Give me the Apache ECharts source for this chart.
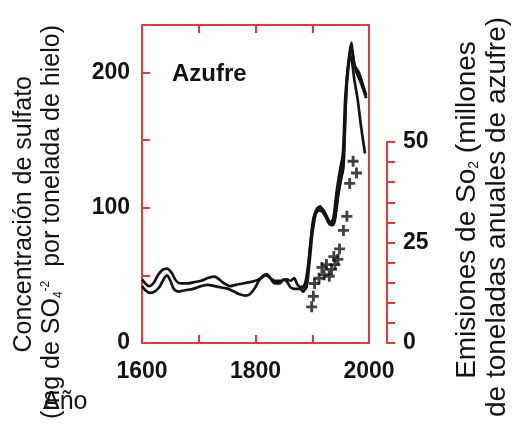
<!DOCTYPE html>
<html><head><meta charset="utf-8">
<script src="https://cdn.jsdelivr.net/npm/echarts@6/dist/echarts.min.js"></script>
<style>html,body{margin:0;padding:0;background:#fff}#c{width:515px;height:444px}</style>
</head><body><div id="c"></div>
<script>
// ---- data ----
const xTickLabels = ['1600', '1800', '2000'];
const leftTickLabels = ['0', '100', '200'];
const rightTickLabels = ['0', '25', '50'];

const sulfateA = [[1600,47],[1606,44],[1612,42],[1620,44],[1628,50],[1636,54],[1644,55],[1652,52],[1660,46],[1668,44],[1680,44],[1692,45],[1704,46],[1716,48],[1728,49],[1736,47],[1745,44],[1755,42],[1765,43],[1778,44],[1790,45],[1800,46],[1810,48],[1818,50],[1826,48],[1834,46],[1845,46],[1855,47],[1862,46],[1868,48],[1874,43],[1882,41],[1888,45],[1894,62],[1900,85],[1906,97],[1912,100],[1918,99],[1924,95],[1930,90],[1936,88],[1940,93],[1945,108],[1950,120],[1955,130],[1958,165],[1961,195],[1965,212],[1969,222],[1972,210],[1978,200],[1986,192],[1995,181]];
const sulfateB = [[1600,42],[1606,39],[1614,37],[1622,38],[1630,41],[1638,47],[1644,50],[1650,46],[1656,40],[1664,38],[1676,39],[1690,40],[1704,42],[1716,43],[1728,42],[1740,41],[1752,40],[1762,38],[1772,36],[1782,35],[1790,36],[1798,40],[1806,46],[1814,50],[1820,51],[1826,48],[1834,44],[1842,44],[1850,47],[1856,45],[1862,41],[1870,40],[1878,40],[1884,38],[1890,44],[1896,70],[1902,92],[1908,99],[1914,101],[1920,96],[1926,92],[1932,89],[1937,92],[1943,112],[1949,128],[1954,140],[1958,180],[1962,200],[1967,212],[1970,208],[1974,195],[1980,180],[1986,160],[1993,140]];
const sulfateC = [[1880,42],[1888,40],[1894,55],[1900,80],[1906,95],[1912,98],[1918,97],[1924,93],[1930,88],[1936,87],[1940,91],[1946,110],[1952,125],[1956,145],[1960,185],[1964,205],[1968,218],[1971,215],[1975,205],[1982,200],[1990,190],[1995,183]];
const emissions = [[1899,9.0],[1902,11.6],[1904,14.8],[1912,16.1],[1917,18.8],[1921,17.0],[1925,19.5],[1930,16.6],[1934,18.3],[1938,21.5],[1940,19.5],[1945,20.8],[1948,23.4],[1955,28.0],[1961,31.5],[1966,39.7],[1972,45.2],[1978,42.3]];

// ---- chart ----
const RED = '#e23a3a';
const INK = '#141414';
const FONT = 'Liberation Sans, Arial, sans-serif';
const chart = echarts.init(document.getElementById('c'), null, {renderer: 'canvas'});
const plus = 'path://M3.7,0H6.3V3.7H10V6.3H6.3V10H3.7V6.3H0V3.7H3.7Z';
const lineS = (d) => ({type: 'line', xAxisIndex: 0, yAxisIndex: 0, data: d, showSymbol: false, smooth: 0.3,
  lineStyle: {color: INK, width: 2.7}, z: 3});
const tickFont = {color: INK, fontSize: 23, fontWeight: 'bold', fontFamily: FONT};

chart.setOption({
  animation: false,
  backgroundColor: '#fff',
  grid: [
    {left: 142, top: 25, width: 227, height: 318},
    {left: 142, top: 142, width: 227, height: 201}
  ],
  xAxis: [
    {gridIndex: 0, type: 'value', min: 1600, max: 2000, interval: 100, position: 'bottom',
     axisLine: {onZero: false, lineStyle: {color: RED, width: 2}}, splitLine: {show: false},
     axisTick: {inside: true, length: 8, lineStyle: {color: RED, width: 2}},
     axisLabel: Object.assign({margin: 17,
       formatter: v => xTickLabels.includes(String(v)) ? String(v) : ''}, tickFont)},
    {gridIndex: 0, type: 'value', min: 1600, max: 2000, interval: 100, position: 'top',
     axisLine: {onZero: false, lineStyle: {color: RED, width: 2}}, splitLine: {show: false},
     axisTick: {inside: true, length: 8, lineStyle: {color: RED, width: 2}},
     axisLabel: {show: false}},
    {gridIndex: 1, type: 'value', min: 1600, max: 2000, show: false}
  ],
  yAxis: [
    {gridIndex: 0, type: 'value', min: 0, max: 235, interval: 50, position: 'left',
     axisLine: {show: true, onZero: false, lineStyle: {color: RED, width: 2}}, splitLine: {show: false},
     axisTick: {show: true, inside: true, length: 8, lineStyle: {color: RED, width: 2}},
     axisLabel: Object.assign({margin: 12, showMaxLabel: false,
       formatter: v => leftTickLabels.includes(String(v)) ? String(v) : ''}, tickFont)},
    {gridIndex: 0, type: 'value', min: 0, max: 235, position: 'right',
     axisLine: {show: true, onZero: false, lineStyle: {color: RED, width: 2}}, splitLine: {show: false},
     axisTick: {show: false}, axisLabel: {show: false}},
    {gridIndex: 1, type: 'value', min: 0, max: 50, interval: 5, position: 'right', offset: 18,
     axisLine: {show: true, onZero: false, lineStyle: {color: RED, width: 2}}, splitLine: {show: false},
     axisTick: {show: true, inside: false, length: 8, lineStyle: {color: RED, width: 2}},
     axisLabel: Object.assign({margin: 16,
       formatter: v => rightTickLabels.includes(String(v)) ? String(v) : ''}, tickFont)}
  ],
  series: [
    lineS(sulfateA), lineS(sulfateB), lineS(sulfateC),
    {type: 'scatter', xAxisIndex: 2, yAxisIndex: 2, data: emissions, symbol: plus, symbolSize: 11,
     itemStyle: {color: INK}, z: 4}
  ],
  graphic: [
    {type: 'text', x: 172, y: 74, style: {text: 'Azufre', fontSize: 24, fontWeight: 'bold', fontFamily: FONT,
      fill: INK, align: 'left', verticalAlign: 'middle'}},
    {type: 'text', x: 24, y: 76, rotation: Math.PI / 2, style: {text: 'Concentración de sulfato',
      fontSize: 25, fontFamily: FONT, fill: INK, align: 'right', verticalAlign: 'middle'}},
    {type: 'text', x: 52, y: 25, rotation: Math.PI / 2, style: {
      text: '(mg de SO{sub|4}{sup|-2}  por tonelada de hielo)',
      fontSize: 25, fontFamily: FONT, fill: INK, align: 'right', verticalAlign: 'middle',
      rich: {sub: {fontSize: 12, fontFamily: FONT, fill: INK, verticalAlign: 'bottom'},
             sup: {fontSize: 12, fontFamily: FONT, fill: INK, verticalAlign: 'top'}}}},
    {type: 'text', x: 43, y: 402, style: {text: 'Año', fontSize: 25, fontFamily: FONT, fill: INK,
      align: 'left', verticalAlign: 'middle'}},
    {type: 'text', x: 467, y: 210, rotation: Math.PI / 2, style: {
      text: 'Emisiones de So{sub|2} (millones', fontSize: 28, fontFamily: FONT, fill: INK,
      align: 'center', verticalAlign: 'middle',
      rich: {sub: {fontSize: 14, fontFamily: FONT, fill: INK, verticalAlign: 'bottom'}}}},
    {type: 'text', x: 497, y: 217, rotation: Math.PI / 2, style: {
      text: 'de toneladas anuales de azufre)', fontSize: 28, fontFamily: FONT, fill: INK,
      align: 'center', verticalAlign: 'middle'}}
  ]
});
</script></body></html>
